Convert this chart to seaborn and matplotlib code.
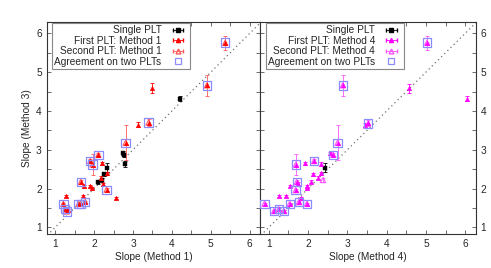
import numpy as np
import pandas as pd
import seaborn as sns
import matplotlib
matplotlib.use("Agg")
import matplotlib.pyplot as plt
from matplotlib.ticker import MultipleLocator

sns.set_theme(style="ticks")
plt.rcParams['font.family'] = ['Liberation Sans', 'DejaVu Sans']
FS = 7.3

# ---------------- Left panel: Method 1 vs Method 3 ----------------
L_single_x = [4.22, 2.75, 2.78, 2.80, 2.34, 2.25, 2.19, 2.11]
L_single_y = [4.32, 2.91, 2.87, 2.63, 2.54, 2.37, 2.22, 2.16]
L_single_e = [0.07, 0.05, 0.05, 0.07, 0.12, 0.05, 0.05, 0.04]

L_first_x = [3.50, 3.13, 2.19, 2.18, 2.32, 2.24, 1.73, 1.90, 1.95, 2.55, 1.27, 1.71, 1.33]
L_first_y = [4.59, 3.65, 2.65, 2.28, 2.39, 2.11, 2.06, 2.06, 2.02, 1.76, 1.81, 1.81, 1.44]
L_first_e = [0.12, 0.07, 0.04, 0.04, 0.04, 0.04, 0.03, 0.03, 0.03, 0.03, 0.03, 0.03, 0.03]

L_agree_x = [5.37, 4.90, 3.40, 2.81, 2.11, 1.90, 1.96, 1.66, 2.32, 1.77, 1.21, 1.60, 1.66, 1.26, 1.30]
L_agree_y = [5.76, 4.66, 3.70, 3.18, 2.87, 2.71, 2.62, 2.17, 1.97, 1.66, 1.61, 1.61, 1.61, 1.47, 1.41]
L_agree_e = [0.18, 0.27, 0.08, 0.45, 0.05, 0.05, 0.28, 0.05, 0.04, 0.03, 0.03, 0.03, 0.03, 0.03, 0.03]

# ---------------- Right panel: Method 4 vs Method 3 ----------------
R_single_x = [2.44]
R_single_y = [2.54]
R_single_e = [0.12]

R_first_x = [4.56, 6.05, 3.45, 2.55, 1.91, 2.34, 2.34, 2.13, 2.24, 2.07, 1.75, 1.98, 1.96, 1.53, 1.25, 1.44, 1.81]
R_first_y = [4.58, 4.32, 3.63, 2.91, 2.65, 2.63, 2.39, 2.37, 2.28, 2.18, 2.12, 2.06, 2.02, 2.06, 1.81, 1.81, 1.76]
R_first_e = [0.12, 0.07, 0.07, 0.04, 0.04, 0.05, 0.04, 0.04, 0.04, 0.04, 0.04, 0.03, 0.03, 0.03, 0.03, 0.03, 0.03]

R_second_x = [2.38]
R_second_y = [2.22]
R_second_e = [0.04]

R_agree_x = [5.03, 2.88, 3.53, 2.75, 2.64, 2.15, 1.69, 1.71, 1.68, 0.89, 1.53, 1.76, 1.97, 1.13, 1.25, 1.38]
R_agree_y = [5.76, 4.66, 3.68, 3.18, 2.87, 2.71, 2.62, 2.17, 1.96, 1.61, 1.61, 1.65, 1.61, 1.42, 1.47, 1.42]
R_agree_e = [0.18, 0.27, 0.08, 0.45, 0.05, 0.05, 0.28, 0.05, 0.04, 0.03, 0.03, 0.03, 0.03, 0.03, 0.03, 0.03]

fig = plt.figure(figsize=(4.91, 2.68), dpi=100)
axL = fig.add_axes([0.095, 0.127, 0.435, 0.792])
axR = fig.add_axes([0.530, 0.127, 0.439, 0.792])

BLUE = "#8c8cff"

def panel(ax, sx, sy, se, fx, fy, fe, ax_, ay_, ae_, c1, c2, meth, s2x=(), s2y=(), s2e=()):
    ax.plot([0, 7], [0, 7], ls=(0, (1, 2.5)), color="#707070", lw=0.9, zorder=1)
    ekw = dict(fmt="none", elinewidth=0.6, capsize=1.5, capthick=0.6)
    ax.errorbar(sx, sy, yerr=se, ecolor="black", **ekw, zorder=2)
    ax.errorbar(fx, fy, yerr=fe, ecolor=c1, **ekw, zorder=2)
    ax.errorbar(ax_, ay_, yerr=ae_, ecolor=c2, **ekw, zorder=2)
    if len(s2x):
        ax.errorbar(s2x, s2y, yerr=s2e, ecolor=c2, **ekw, zorder=2)
    sns.scatterplot(x=sx, y=sy, ax=ax, marker="s", s=9, color="black", edgecolor="black", linewidth=0.3, zorder=3)
    sns.scatterplot(x=list(s2x) + list(ax_), y=list(s2y) + list(ay_), ax=ax, marker="^", s=14, facecolor="none", edgecolor=c2, linewidth=0.8, zorder=3)
    sns.scatterplot(x=list(fx) + list(ax_), y=list(fy) + list(ay_), ax=ax, marker="^", s=11, color=c1, edgecolor=c1, linewidth=0.3, zorder=4)
    sns.scatterplot(x=ax_, y=ay_, ax=ax, marker="s", s=36, facecolor="none", edgecolor=BLUE, linewidth=0.9, zorder=5)

    ax.set_xlim(0.78, 6.27)
    ax.set_ylim(0.83, 6.3)
    ax.xaxis.set_major_locator(MultipleLocator(1))
    ax.yaxis.set_major_locator(MultipleLocator(1))
    ax.xaxis.set_minor_locator(MultipleLocator(0.5))
    ax.yaxis.set_minor_locator(MultipleLocator(0.5))
    ax.tick_params(which="both", direction="in", top=True, right=True, left=True, bottom=True,
                   labelsize=FS, color="#555555", width=0.6)
    ax.tick_params(which="major", length=3)
    ax.tick_params(which="minor", length=3)
    for s in ax.spines.values():
        s.set_color("#333333")
        s.set_linewidth(0.8)
    ax.set_xlabel(f"Slope (Method {meth})", fontsize=FS, labelpad=2)

    # legend proxies
    h1 = ax.errorbar([np.nan], [np.nan], xerr=[0.1], fmt="s", ms=2.5, color="black", elinewidth=0.6, capsize=1.5)
    h2 = ax.errorbar([np.nan], [np.nan], xerr=[0.1], fmt="^", ms=3, color=c1, elinewidth=0.6, capsize=1.5)
    h3 = ax.errorbar([np.nan], [np.nan], xerr=[0.1], fmt="^", ms=3.5, mfc="none", color=c2, elinewidth=0.6, capsize=1.5)
    h4 = plt.Line2D([], [], ls="none", marker="s", ms=5, mfc="none", mec=BLUE, mew=0.9)
    leg = ax.legend([h1, h2, h3, h4],
                    ["Single PLT", f"First PLT: Method {meth}", f"Second PLT: Method {meth}", "Agreement on two PLTs"],
                    loc="upper left", bbox_to_anchor=(0.02, 1.0), borderaxespad=0.15, markerfirst=False,
                    fontsize=FS, fancybox=False, framealpha=1, edgecolor="#888888",
                    handlelength=2.0, handletextpad=0.6, labelspacing=0.05, borderpad=0.2)
    leg.get_frame().set_linewidth(0.8)

panel(axL, L_single_x, L_single_y, L_single_e, L_first_x, L_first_y, L_first_e,
      L_agree_x, L_agree_y, L_agree_e, "#ff0000", "#ff5a5a", 1)
panel(axR, R_single_x, R_single_y, R_single_e, R_first_x, R_first_y, R_first_e,
      R_agree_x, R_agree_y, R_agree_e, "#ff00ff", "#ff55ff", 4, R_second_x, R_second_y, R_second_e)

axL.set_ylabel("Slope (Method 3)", fontsize=FS, labelpad=3)
axR.set_ylabel("")
axR.yaxis.set_ticks_position("both")
axR.tick_params(axis="y", labelleft=False, labelright=True)
axL.tick_params(axis="y", labelright=False)

fig.savefig("out.png", dpi=100)
